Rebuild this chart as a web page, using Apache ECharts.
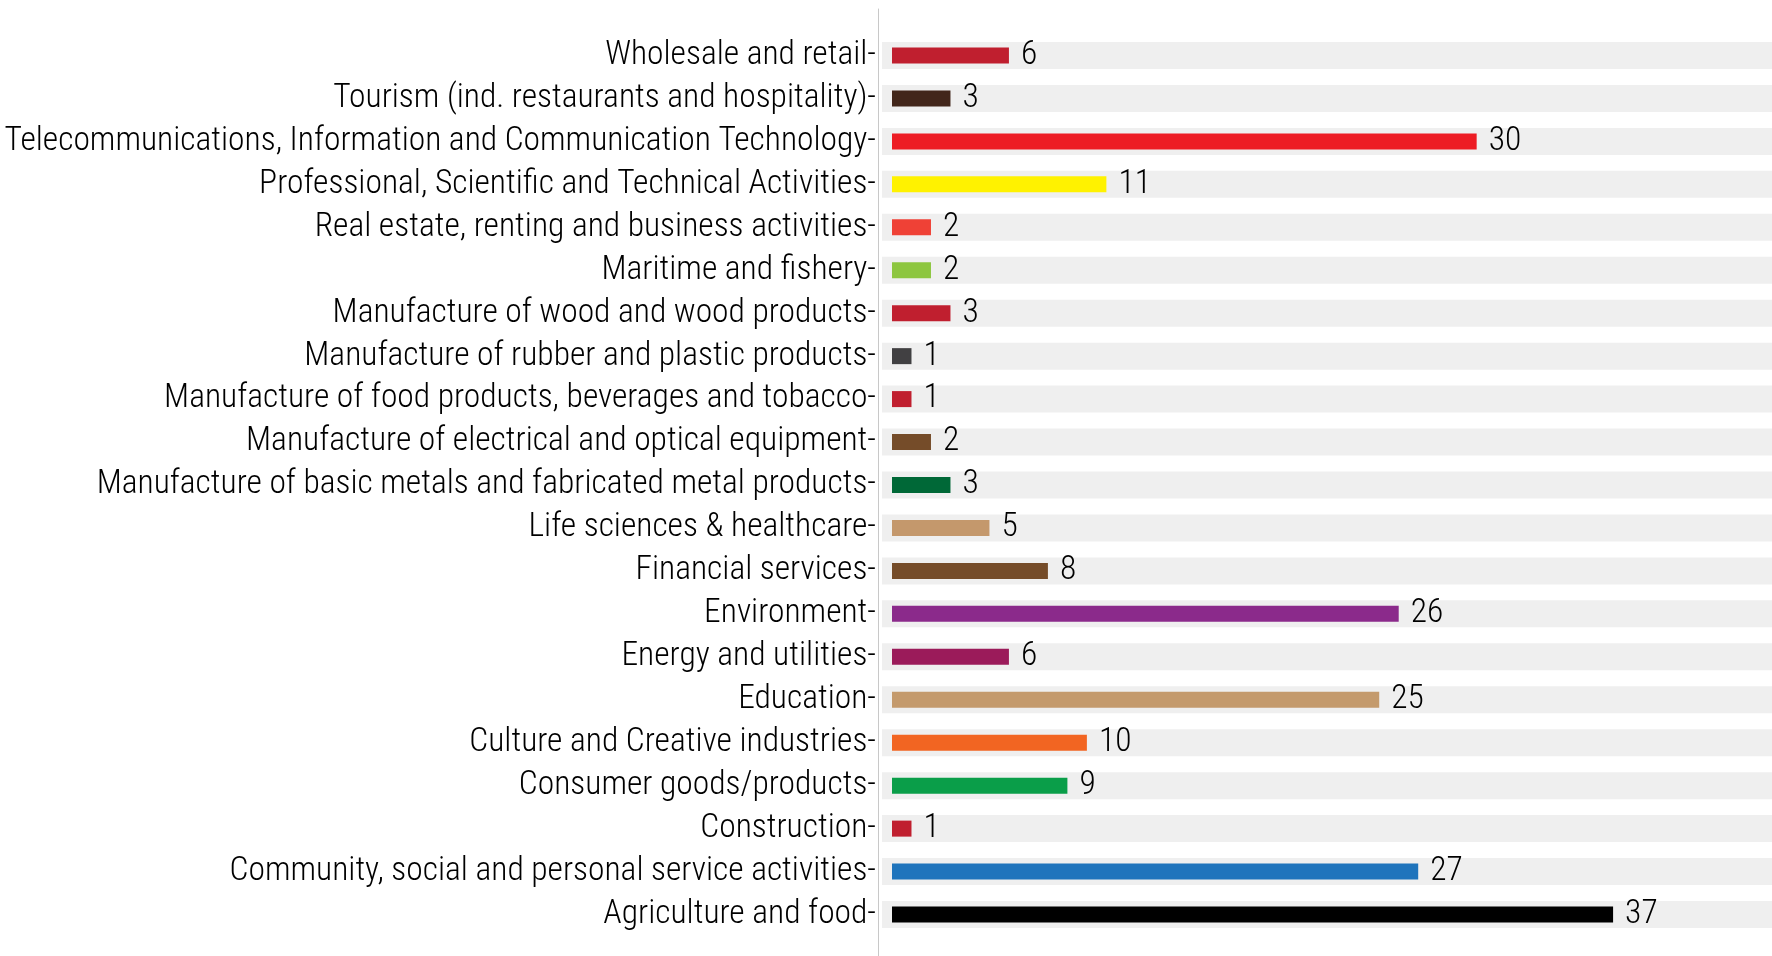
<!DOCTYPE html>
<html>
<head>
<meta charset="utf-8">
<script src="https://cdn.jsdelivr.net/npm/echarts@6/dist/echarts.min.js"></script>
<style>
  html, body { margin: 0; padding: 0; background: #ffffff; }
  #chart { width: 1772px; height: 956px; }
</style>
</head>
<body>
<div id="chart"></div>
<script>
// Sectors, listed bottom to top
const sectors = [
  'Agriculture and food',
  'Community, social and personal service activities',
  'Construction',
  'Consumer goods/products',
  'Culture and Creative industries',
  'Education',
  'Energy and utilities',
  'Environment',
  'Financial services',
  'Life sciences & healthcare',
  'Manufacture of basic metals and fabricated metal products',
  'Manufacture of electrical and optical equipment',
  'Manufacture of food products, beverages and tobacco',
  'Manufacture of rubber and plastic products',
  'Manufacture of wood and wood products',
  'Maritime and fishery',
  'Real estate, renting and business activities',
  'Professional, Scientific and Technical Activities',
  'Telecommunications, Information and Communication Technology',
  'Tourism (ind. restaurants and hospitality)',
  'Wholesale and retail'
];

// Count per sector
const counts = [37, 27, 1, 9, 10, 25, 6, 26, 8, 5, 3, 2, 1, 1, 3, 2, 2, 11, 30, 3, 6];

// Fill colour per sector
const barColors = [
  '#000000', '#1f74bc', '#c01f2f', '#0a9e49', '#f26522', '#c49a6c', '#9b1b5a',
  '#8b2a8b', '#754c29', '#c4986c', '#006837', '#754c29', '#c01f2f', '#414042',
  '#c01f2f', '#8dc63f', '#ef4136', '#fff200', '#ed1c24', '#42261a', '#c01f2f'
];

const FONT = '"Roboto Condensed", "Liberation Sans Narrow", sans-serif';
const FONT_SIZE = 33.5;
const FONT_WEIGHT = 300;

const chart = echarts.init(document.getElementById('chart'), null, { renderer: 'canvas' });

chart.setOption({
  animation: false,
  backgroundColor: '#ffffff',
  grid: [
    // bars
    { left: 892, right: 3, top: 34, bottom: 20, outerBoundsMode: 'none', containLabel: false },
    // grey row bands
    { left: 882, right: 0, top: 34, bottom: 20, outerBoundsMode: 'none', containLabel: false },
    // vertical axis rule
    { left: 878, right: 0, top: 9, bottom: 0, outerBoundsMode: 'none', containLabel: false }
  ],
  xAxis: [
    { gridIndex: 0, type: 'value', min: 0, max: 45, show: false },
    { gridIndex: 1, type: 'value', min: 0, max: 1, show: false },
    { gridIndex: 2, type: 'value', min: 0, max: 1, show: false }
  ],
  yAxis: [
    {
      gridIndex: 0,
      type: 'category',
      data: sectors,
      z: 5,
      axisLine: { show: false },
      axisTick: { show: false },
      splitLine: { show: false },
      axisLabel: {
        interval: 0,
        hideOverlap: false,
        margin: 16,
        color: '#000000',
        fontFamily: FONT,
        fontSize: FONT_SIZE,
        fontWeight: FONT_WEIGHT,
        formatter: (v) => v + '-'
      }
    },
    {
      gridIndex: 1,
      type: 'category',
      data: sectors,
      show: false
    },
    {
      gridIndex: 2,
      type: 'value',
      min: 0,
      max: 1,
      axisLine: { show: true, lineStyle: { color: '#c8c8c8', width: 1 } },
      axisTick: { show: false },
      axisLabel: { show: false },
      splitLine: { show: false }
    }
  ],
  series: [
    {
      name: 'band',
      type: 'bar',
      xAxisIndex: 1,
      yAxisIndex: 1,
      silent: true,
      barWidth: 27,
      itemStyle: { color: '#efefef' },
      data: sectors.map(() => 1),
      z: 1
    },
    {
      name: 'count',
      type: 'bar',
      xAxisIndex: 0,
      yAxisIndex: 0,
      barWidth: 16,
      z: 3,
      data: counts.map((v, i) => ({ value: v, itemStyle: { color: barColors[i] } })),
      label: {
        show: true,
        position: 'right',
        distance: 12,
        color: '#000000',
        fontFamily: FONT,
        fontSize: FONT_SIZE,
        fontWeight: FONT_WEIGHT
      }
    }
  ]
});
</script>
</body>
</html>
